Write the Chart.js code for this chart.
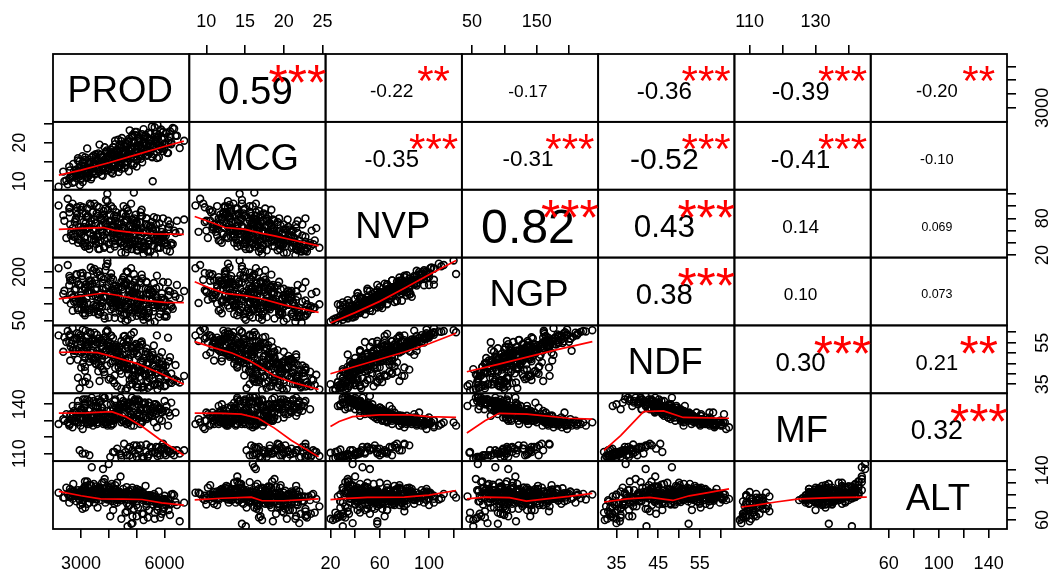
<!DOCTYPE html>
<html lang="en">
<head>
<meta charset="UTF-8">
<title>chart.Correlation</title>
<script src="https://cdn.jsdelivr.net/npm/chart.js"></script>
<style>
  html, body { margin: 0; padding: 0; background: #fff; }
</style>
</head>
<body>
<canvas id="pairs" width="1055" height="575"></canvas>
<script>
// --- variables (names on the diagonal) ---
const vars = ['PROD', 'MCG', 'NVP', 'NGP', 'NDF', 'MF', 'ALT'];

const prod = [2190, 2360, 2470, 2575, 2610, 2695, 2720, 2805, 2830, 2890,
  2915, 2970, 3005, 3060, 3085, 3140, 3165, 3220, 3235, 3290,
  3315, 3360, 3385, 3430, 3455, 3510, 3525, 3580, 3595, 3650,
  3665, 3720, 3735, 3790, 3805, 3860, 3875, 3930, 3945, 3995,
  4015, 4070, 4085, 4140, 4155, 4210, 4225, 4280, 4295, 4350,
  4375, 4420, 4445, 4500, 4515, 4570, 4595, 4650, 4675, 4730,
  4755, 4810, 4845, 4900, 4935, 5000, 5035, 5100, 5135, 5200,
  5245, 5320, 5365, 5440, 5495, 5580, 5635, 5730, 5795, 5910,
  6005, 6130, 6245,
  2950, 3050, 4050, 4300, 4450, 4600, 4750, 4850, 4950, 5050, 5150,
  5250, 5350, 5450, 5550, 5650, 5750, 5850, 5950, 6050, 6200, 6710,
  2650, 3900, 4450, 3150, 5150, 2980, 4720, 3480, 5600, 4100,
  2820, 4880, 3620, 5380, 3300, 4260, 6080, 2520, 3760, 4600,
  5020, 3050, 4350, 5720, 3540, 4980, 2750, 4150, 5480, 3850,
  4530, 3200, 5880, 4020, 2880, 4790, 3410, 5250, 4380, 3680,
  6400, 3100, 4680, 2400, 5060, 3950, 4230, 5560, 3330, 4910,
  3010, 4470, 5820, 3590, 4060, 2600, 5310, 3780, 4640, 5140,
  3460, 4320, 2960, 5690, 4170, 3880, 4830, 3250, 5410, 4560,
  3720, 6150, 2700, 4400, 5000, 3570, 4940, 3140, 4720, 5950,
  4200, 4650, 5100, 5400, 5700, 6000, 6300, 4900, 5250, 5550,
  3300, 5900, 6450, 4400, 5000, 5800, 6150, 4750, 5350, 6550,
  3420, 4580, 2860, 5230, 3970, 4760, 3160, 5470, 4290, 2580,
  3700, 4850, 3350, 5750, 4120, 3020, 4970, 3830, 5590, 2770,
  4410, 3560, 5100, 4020, 3240, 6050, 4640, 3640, 5330, 2930,
  4190, 5810, 3490, 4700, 3900, 5050, 3120, 4480, 5620, 3750,
  2700, 4340, 5180, 3300, 4880, 4080, 5900, 3600, 4530, 2990,
  5270, 4230, 3440, 5010, 3810, 4690, 3180, 5520, 4150, 2850,
  4940, 3680, 5360, 4360, 3070, 4800, 5700, 3930, 4610, 3380,
  5150, 4260, 3520, 6200, 4050, 2630, 4920, 3770, 5430, 4470,
  3230, 5060,
  4150, 4700, 5200, 5500, 5750, 6100, 6350, 4450, 5000, 5650,
  6000, 3150, 4850, 5400, 5950, 6250, 4550, 5850];
const mcg = [8.6, 12.5, 10.2, 13.8, 11.0, 9.6, 14.5, 12.0, 10.8, 16.0,
  12.8, 11.4, 14.0, 9.8, 13.2, 15.5, 12.2, 18.5, 11.0, 14.8,
  13.5, 10.5, 16.2, 12.6, 14.2, 11.8, 17.0, 13.0, 15.2, 12.4,
  19.5, 14.6, 11.6, 16.4, 13.8, 15.0, 12.9, 17.6, 14.3, 16.0,
  13.1, 18.2, 15.6, 12.0, 16.8, 14.9, 20.5, 15.3, 13.6, 17.4,
  16.1, 14.0, 18.8, 15.8, 17.2, 13.4, 19.0, 16.5, 15.1, 21.0,
  17.8, 14.6, 18.4, 16.2, 20.0, 15.7, 21.8, 17.0, 19.4, 14.9,
  18.0, 21.6, 16.6, 19.8, 22.3, 10.0, 20.6, 16.0, 22.0, 18.6,
  21.2, 17.3, 19.6,
  15.2, 16.5, 17.0, 18.2, 16.0, 20.0, 16.8, 22.0, 17.5, 19.2, 15.8,
  23.5, 18.0, 20.8, 16.4, 21.5, 24.6, 18.8, 22.8, 19.5, 23.0, 20.5,
  11.2, 15.8, 13.2, 12.0, 18.6, 10.4, 20.2, 14.6, 19.4, 16.6,
  13.0, 14.2, 17.2, 21.4, 11.6, 18.0, 22.6, 9.2, 13.6, 17.8,
  15.6, 14.8, 12.4, 20.8, 16.4, 19.2, 12.6, 14.0, 17.4, 18.8,
  16.0, 10.8, 23.4, 13.4, 15.4, 18.4, 12.2, 21.0, 15.2, 14.4,
  21.8, 13.8, 16.8, 10.0, 20.4, 12.8, 19.6, 16.2, 15.0, 14.6,
  11.8, 21.2, 18.2, 13.2, 17.0, 12.8, 22.0, 11.4, 19.0, 16.4,
  14.2, 15.8, 9.0, 19.8, 13.0, 17.6, 21.6, 12.4, 18.0, 14.8,
  16.2, 20.0, 11.0, 18.6, 13.8, 15.6, 22.8, 14.0, 12.6, 17.8,
  17.6, 19.8, 21.0, 16.8, 22.4, 18.4, 23.8, 20.2, 17.2, 24.2,
  15.6, 19.0, 21.8, 18.0, 22.8, 16.2, 20.6, 23.2, 19.4, 18.6,
  13.4, 17.2, 11.8, 19.8, 14.8, 16.0, 12.6, 20.6, 15.4, 10.6,
  16.8, 18.6, 13.0, 21.4, 14.0, 12.2, 17.6, 15.6, 18.8, 9.8,
  19.4, 14.2, 16.6, 17.8, 11.4, 22.4, 15.0, 13.6, 20.0, 13.4,
  16.4, 19.2, 12.0, 18.2, 14.6, 21.2, 12.8, 15.8, 17.0, 13.8,
  11.6, 20.8, 18.4, 14.4, 16.2, 12.4, 21.0, 15.2, 17.4, 10.8,
  19.6, 14.4, 16.6, 15.4, 13.2, 20.4, 12.0, 18.0, 16.8, 12.4,
  22.0, 14.6, 17.8, 13.6, 15.0, 16.4, 20.2, 18.0, 14.2, 11.0,
  19.0, 15.6, 13.8, 21.6, 16.0, 11.4, 18.8, 12.8, 22.6, 17.0,
  13.2, 17.6,
  18.8, 16.6, 22.2, 19.6, 21.2, 17.4, 23.6, 20.4, 18.2, 24.0,
  19.8, 16.2, 21.6, 17.8, 22.8, 20.0, 19.2, 23.0];
const nvp = [101, 85, 48, 96, 70, 104, 55, 78, 92, 40,
  66, 100, 58, 98, 74, 50, 88, 35, 82, 64,
  104, 76, 46, 90, 60, 72, 42, 84, 54, 98,
  30, 68, 80, 52, 86, 44, 70, 58, 120, 38,
  62, 48, 76, 56, 66, 34, 44, 82, 50, 60,
  72, 40, 54, 88, 36, 64, 46, 78, 30, 52,
  68, 58, 42, 122, 38, 62, 28, 74, 48, 84,
  56, 34, 70, 44, 26, 60, 50, 80, 32, 64,
  40, 76, 36,
  45, 62, 30, 55, 70, 24, 50, 38, 66, 28, 84,
  35, 58, 42, 74, 20, 32, 52, 80, 40, 26, 78,
  58, 72, 88, 40, 62, 94, 45, 104, 36, 66,
  80, 54, 30, 48, 70, 84, 28, 112, 60, 76,
  42, 88, 64, 52, 38, 70, 50, 96, 58, 34,
  100, 62, 40, 74, 46, 66, 90, 32, 52, 82,
  56, 66, 92, 76, 44, 108, 38, 64, 56, 80,
  44, 60, 72, 50, 86, 98, 36, 68, 50, 90,
  44, 70, 58, 46, 62, 96, 30, 84, 68, 40,
  78, 62, 64, 54, 74, 100, 42, 34, 88, 48,
  48, 34, 60, 26, 70, 44, 38, 56, 22, 64,
  30, 52, 76, 40, 28, 46, 66, 36, 80, 58,
  62, 48, 86, 56, 94, 38, 72, 66, 58, 90,
  44, 78, 102, 42, 68, 54, 86, 32, 60, 74,
  50, 88, 36, 76, 64, 52, 96, 40, 70, 60,
  84, 46, 78, 56, 110, 34, 48, 66, 82, 58,
  44, 62, 94, 36, 72, 100, 58, 50, 88, 66,
  40, 76, 52, 64, 92, 46, 82, 54, 70, 98,
  44, 66, 80, 54, 38, 104, 62, 48, 84, 70,
  52, 90, 46, 70, 60, 52, 76, 84, 38, 42,
  96, 58,
  42, 58, 30, 68, 48, 36, 60, 24, 72, 44,
  54, 34, 64, 28, 50, 40, 74, 32];
const ngp = [212, 132, 114, 159, 174, 176, 120, 111, 193, 82,
  162, 160, 120, 197, 110, 148, 161, 104, 137, 139,
  161, 173, 86, 204, 98, 147, 125, 150, 79, 202,
  92, 115, 184, 106, 123, 123, 124, 160, 236, 59,
  136, 84, 183, 107, 147, 58, 118, 127, 113, 153,
  107, 117, 99, 176, 66, 164, 96, 166, 52, 141,
  125, 90, 135, 194, 94, 106, 83, 170, 69, 180,
  102, 113, 134, 73, 43, 138, 98, 189, 60, 134,
  62, 168, 96,
  120, 101, 106, 105, 153, 47, 142, 74, 137, 98, 130,
  94, 100, 135, 110, 46, 100, 106, 169, 67, 100, 141,
  130, 150, 170, 72, 110, 196, 118, 210, 78, 102,
  148, 132, 68, 86, 174, 140, 62, 222, 92, 162,
  104, 188, 126, 112, 96, 128, 108, 178, 144, 56,
  184, 118, 90, 136, 88, 156, 164, 70, 80, 190,
  124, 100, 200, 142, 98, 226, 74, 116, 136, 168,
  84, 106, 154, 112, 172, 182, 64, 150, 94, 166,
  76, 138, 104, 120, 88, 206, 60, 158, 146, 70,
  134, 128, 122, 100, 152, 198, 82, 66, 176, 90,
  112, 70, 130, 58, 150, 92, 86, 122, 52, 138,
  75, 98, 160, 88, 64, 104, 142, 80, 170, 118,
  126, 90, 170, 118, 182, 84, 152, 130, 100, 188,
  76, 160, 214, 96, 118, 114, 176, 64, 136, 144,
  92, 164, 86, 130, 140, 108, 202, 70, 148, 110,
  156, 100, 174, 112, 218, 74, 96, 146, 166, 104,
  80, 124, 192, 82, 138, 196, 120, 122, 184, 128,
  78, 148, 88, 134, 178, 102, 162, 108, 142, 192,
  88, 130, 168, 98, 72, 212, 126, 94, 170, 136,
  116, 158, 92, 140, 112, 102, 150, 166, 80, 86,
  188, 106,
  96, 128, 62, 146, 104, 78, 132, 56, 154, 90,
  116, 84, 140, 60, 112, 92, 158, 70];
const ndf = [58.5, 50.6, 55.3, 55.1, 46.4, 62.0, 51.2, 51.0, 57.3, 38.1,
  59.2, 57.4, 43.0, 61.3, 51.1, 41.4, 60.8, 38.2, 55.0, 47.3,
  60.0, 50.2, 48.3, 51.1, 47.4, 54.2, 45.0, 51.1, 55.2, 57.0,
  36.5, 46.0, 56.2, 42.0, 56.3, 51.1, 49.0, 51.2, 61.0, 37.2,
  53.0, 45.1, 58.3, 46.0, 53.1, 39.2, 46.1, 52.1, 50.0, 43.1,
  53.1, 44.3, 48.0, 49.1, 43.2, 58.2, 43.2, 53.0, 42.2, 47.0,
  44.3, 52.3, 42.1, 60.0, 37.0, 54.3, 35.0, 53.3, 41.1, 54.1,
  47.4, 49.3, 44.4, 45.1, 34.1, 49.0, 43.5, 58.5, 36.0, 50.4,
  40.4, 57.4, 40.1,
  33.0, 36.0, 38.0, 34.0, 40.0, 32.0, 37.0, 35.0, 39.0, 33.5, 42.0,
  34.0, 36.5, 38.0, 41.0, 35.0, 32.5, 37.5, 43.0, 34.5, 36.0, 39.0,
  54.5, 50.5, 55.8, 47.6, 46.2, 58.6, 42.5, 59.8, 44.0, 52.6,
  51.8, 49.6, 41.2, 45.4, 55.6, 53.8, 38.8, 60.6, 47.2, 52.2,
  43.8, 56.4, 50.8, 47.0, 44.6, 51.4, 49.8, 57.2, 48.4, 39.6,
  58.0, 52.8, 41.0, 53.6, 46.8, 49.2, 56.0, 40.2, 46.6, 54.8,
  44.2, 51.6, 55.4, 57.6, 43.0, 60.4, 42.8, 50.2, 48.8, 53.4,
  50.6, 45.8, 48.0, 49.4, 54.6, 59.0, 39.2, 52.0, 44.8, 55.0,
  46.4, 51.2, 55.8, 42.4, 48.2, 57.8, 37.8, 54.2, 50.0, 45.2,
  53.2, 46.0, 56.2, 47.8, 52.4, 58.8, 41.6, 43.4, 56.6, 44.4,
  35.5, 33.0, 38.5, 36.0, 40.5, 34.0, 37.0, 42.5, 32.2, 39.5,
  35.0, 44.5, 36.5, 41.5, 33.8, 37.8, 46.0, 34.8, 39.0, 35.8,
  50.2, 46.8, 56.6, 45.6, 55.2, 44.2, 53.8, 48.6, 49.0, 58.2,
  43.6, 52.6, 59.4, 42.0, 51.0, 50.4, 54.4, 40.8, 47.4, 57.0,
  44.6, 55.0, 43.2, 52.0, 53.4, 44.0, 56.8, 44.8, 50.6, 52.4,
  53.0, 45.0, 56.0, 47.6, 60.2, 40.6, 49.6, 51.6, 53.6, 48.8,
  51.4, 46.4, 55.6, 45.8, 50.8, 58.4, 46.0, 48.2, 54.8, 54.2,
  42.6, 52.8, 46.6, 49.8, 57.4, 43.4, 55.4, 47.2, 51.8, 59.6,
  41.8, 50.0, 52.2, 48.4, 45.2, 58.8, 46.8, 44.0, 54.0, 55.8,
  45.4, 53.2, 47.8, 48.0, 49.4, 53.0, 50.6, 55.2, 40.4, 45.0,
  57.8, 48.6,
  36.8, 39.8, 33.4, 41.0, 35.2, 38.2, 37.4, 32.8, 43.5, 34.6,
  40.2, 36.2, 38.8, 33.2, 42.0, 35.6, 45.5, 34.2];
const mf = [128, 131, 134, 127, 133, 126, 134, 130, 135, 142,
  129, 132, 137, 125, 131, 141, 134, 143, 128, 136,
  130, 133, 144, 127, 132, 135, 139, 129, 133, 131,
  141, 134, 130, 145, 128, 133, 132, 136, 129, 145,
  131, 140, 127, 134, 130, 142, 139, 133, 137, 138,
  132, 144, 140, 130, 142, 135, 138, 128, 141, 136,
  139, 134, 139, 127, 143, 130, 140, 133, 137, 129,
  132, 138, 137, 141, 139, 135, 140, 126, 137, 130,
  142, 127, 141,
  112, 110, 108, 113, 109, 111, 114, 107.5, 110, 112.5, 115,
  108, 111, 109.5, 113.5, 110.5, 108.5, 112, 116, 109, 111.5, 112,
  131, 133, 129, 140, 136, 127, 141, 130, 138, 134,
  132, 135, 143, 137, 128, 131, 139, 129, 138, 130,
  142, 132, 134, 136, 141, 131, 136, 128, 133, 144,
  130, 133, 137, 132, 139, 134, 129, 140, 137, 131,
  135, 135, 129, 130, 142, 127, 143, 133, 137, 132,
  136, 138, 131, 139, 130, 128, 141, 133, 139, 128,
  142, 134, 131, 140, 137, 129, 144, 130, 132, 141,
  133, 135, 130, 138, 131, 128, 142, 143, 129, 136,
  111, 109, 113, 108, 114, 110, 112, 115, 107, 111,
  109, 113, 112, 110, 108, 114, 111, 109, 115.5, 110,
  134, 138, 129, 137, 131, 141, 132, 134, 136, 128,
  142, 131, 129, 139, 134, 137, 130, 144, 135, 130,
  139, 131, 142, 133, 133, 136, 128, 141, 132, 135,
  131, 138, 130, 137, 128, 143, 138, 133, 129, 136,
  139, 136, 130, 142, 132, 128, 135, 138, 130, 132,
  141, 133, 139, 134, 129, 140, 131, 136, 134, 129,
  142, 135, 131, 137, 143, 127, 134, 140, 131, 130,
  138, 132, 139, 133, 136, 134, 132, 130, 141, 140,
  129, 135,
  111, 113, 108, 114, 110, 112, 109, 107.5, 115, 111,
  113, 110, 112, 108, 114, 110, 116, 109];
const alt = [104, 96, 112, 88, 100, 94, 118, 102, 90, 108,
  98, 84, 106, 92, 110, 100, 96, 122, 86, 104,
  98, 116, 145, 94, 102, 108, 96, 100, 80, 106,
  112, 99, 92, 142, 110, 97, 88, 106, 101, 150,
  95, 114, 91, 103, 76, 108, 100, 97, 120, 94,
  105, 130, 102, 98, 110, 93, 104, 87, 50, 106,
  100, 54, 112, 96, 104, 90, 101, 108, 97, 103,
  94, 115, 92, 100, 98, 85, 102, 95, 106, 89,
  99, 93, 101,
  92, 78, 66, 88, 100, 72, 84, 55, 95, 80, 104,
  70, 86, 76, 90, 62, 82, 96, 74, 85, 68, 88,
  98, 104, 92, 110, 96, 100, 107, 88, 94, 118,
  103, 91, 112, 99, 95, 108, 90, 102, 120, 97,
  105, 86, 101, 93, 114, 98, 106, 94, 100, 126,
  95, 99, 92, 109, 101, 96, 104, 103, 97, 111,
  89, 107, 102, 96, 100, 93, 116, 99, 105, 94,
  108, 101, 87, 99, 106, 110, 95, 102, 113, 97,
  118, 92, 104, 98, 100, 96, 108, 112, 91, 103,
  99, 86, 105, 95, 110, 101, 97, 122, 100, 93,
  86, 74, 96, 64, 90, 80, 102, 78, 60, 94,
  88, 70, 84, 105, 66, 92, 76, 98, 82, 58,
  100, 96, 104, 92, 108, 99, 115, 90, 103, 97,
  110, 94, 101, 88, 106, 98, 102, 121, 95, 99,
  104, 93, 100, 112, 96, 91, 105, 107, 97, 94,
  100, 86, 109, 101, 95, 104, 113, 98, 92, 106,
  102, 96, 100, 117, 93, 103, 89, 108, 97, 101,
  95, 110, 99, 104, 96, 100, 106, 94, 98, 103,
  97, 112, 90, 105, 100, 99, 87, 114, 102, 95,
  101, 97, 109, 85, 100, 106, 96, 103, 98, 92,
  100, 108,
  90, 82, 70, 96, 76, 88, 100, 62, 84, 72,
  94, 80, 66, 90, 78, 86, 98, 64];
const series = [prod, mcg, nvp, ngp, ndf, mf, alt];

// --- axis ranges and tick values per variable ---
const axisMin = [1990, 7.8, 16, 34.3, 30.6, 105.4, 45.6];
const axisMax = [6895, 25.4, 126.7, 245, 63.3, 146.7, 154.7];
const tickVals = [
  [3000, 4000, 5000, 6000],
  [10, 15, 20, 25],
  [20, 40, 60, 80, 100, 120],
  [50, 100, 150, 200],
  [35, 40, 45, 50, 55, 60],
  [110, 120, 130, 140],
  [60, 80, 100, 120, 140]
];
// labels printed on each side (null = no axis on that side)
const topLabels = [null, ['10', '15', '20', '25'], null, ['50', '150'], null, ['110', '130'], null];
const bottomLabels = [['3000', '6000'], null, ['20', '60', '100'], null, ['35', '45', '55'], null, ['60', '100', '140']];
const leftLabels = [null, ['10', '20'], null, ['50', '200'], null, ['110', '140'], null];
const rightLabels = [['3000'], null, ['20', '80'], null, ['35', '55'], null, ['60', '140']];

// --- upper panels: correlation and significance, row by row ---
const corrLabels = ['0.59', '-0.22', '-0.17', '-0.36', '-0.39', '-0.20',
  '-0.35', '-0.31', '-0.52', '-0.41', '-0.10',
  '0.82', '0.43', '0.14', '0.069',
  '0.38', '0.10', '0.073',
  '0.30', '0.21',
  '0.32'];
const corrStars = ['***', '**', '', '***', '***', '**',
  '***', '***', '***', '***', '',
  '***', '***', '', '',
  '***', '', '',
  '***', '**',
  '***'];

// --- red smoothers ('row-col': [x, y]) ---
const smooth = {
  '1-0': [[2200, 11.6], [3000, 12.9], [4000, 14.8], [5000, 16.9], [6000, 19.0], [6700, 20.4]],
  '2-0': [[2200, 62], [3000, 63.5], [3800, 65], [4200, 60.5], [4800, 57], [5600, 54.5], [6700, 54]],
  '2-1': [[8.5, 83], [10.5, 74], [12.4, 65], [15, 62], [17, 56], [18.8, 51.5], [21, 45], [24.5, 35]],
  '3-0': [[2200, 117], [3000, 125], [3800, 135], [4300, 128], [5200, 113], [6000, 106], [6700, 105]],
  '3-1': [[8.5, 170], [10.5, 150], [12.4, 134], [15, 127], [17, 118], [20, 98], [22, 87], [24.5, 75]],
  '3-2': [[20, 42], [40, 74], [60, 109], [80, 150], [100, 192], [122, 236]],
  '4-0': [[2200, 50.3], [3000, 50.5], [3600, 50.2], [4200, 48], [5000, 45], [5800, 40.5], [6700, 35]],
  '4-1': [[8.5, 55.5], [11, 52.5], [13.3, 50], [15.5, 46.5], [17.1, 43], [18.8, 39], [21, 36], [24.5, 32.5]],
  '4-2': [[20, 40], [40, 43.5], [60, 47], [80, 50.5], [100, 54.5], [122, 59.5]],
  '4-3': [[42, 41], [90, 44.5], [135, 48], [180, 51.5], [236, 55.5]],
  '5-0': [[2200, 134.6], [3200, 134.8], [4100, 135.5], [4600, 132.5], [5200, 126.5], [5800, 119], [6700, 109]],
  '5-1': [[8.5, 134.6], [12, 134.5], [14.5, 134], [16.7, 131.5], [18.8, 125.5], [21, 118], [24.5, 108]],
  '5-2': [[20, 126.5], [27, 129.5], [38, 132.5], [60, 133.5], [84, 133.5], [100, 132.5], [122, 132]],
  '5-3': [[42, 122.5], [70, 130], [92, 134.5], [135, 134], [200, 131.5], [236, 131]],
  '5-4': [[32, 112], [36, 121], [41.5, 135.5], [46.3, 136], [51, 132], [62, 131.5]],
  '6-0': [[2200, 106], [3000, 99], [3700, 94], [4500, 93.5], [5200, 93], [5900, 87.5], [6700, 84]],
  '6-1': [[8.5, 92.5], [12, 95], [15.8, 96.8], [17.2, 91], [20, 91], [24.5, 94]],
  '6-2': [[20, 92.7], [30, 94.5], [50, 96.5], [80, 97], [100, 100], [122, 107.5]],
  '6-3': [[42, 94], [70, 97], [108, 96], [134, 90.5], [165, 94], [200, 98], [236, 103]],
  '6-4': [[32, 89], [37.5, 94], [43, 96.5], [48.5, 91.5], [52.5, 99], [57, 104], [62, 110]],
  '6-5': [[107.5, 81], [112, 84], [118, 89], [125, 94], [135, 96], [145.5, 97]]
};

const FONT = '"Liberation Sans", Arial, sans-serif';
const TICK_SIZE = 18;
const measure = document.createElement('canvas').getContext('2d');
measure.font = TICK_SIZE + 'px ' + FONT;
const widest = labels => Math.max(...labels.map(s => measure.measureText(s).width));

function axisOpts(k, pos) {
  const table = {top: topLabels, bottom: bottomLabels, left: leftLabels, right: rightLabels}[pos];
  const shown = table[k];
  const horiz = pos === 'top' || pos === 'bottom';
  const o = {
    type: 'linear',
    position: pos,
    stack: pos,
    stackWeight: 1,
    min: axisMin[k],
    max: axisMax[k],
    border: { display: false },
    grid: { display: !!shown, drawOnChartArea: false, drawTicks: true, tickLength: 9, color: '#000', lineWidth: 1.6 },
    ticks: {
      display: !!shown,
      autoSkip: false,
      color: '#000',
      font: { family: FONT, size: TICK_SIZE },
      padding: 10,
      callback: v => (shown && shown.includes(String(v))) ? String(v) : ''
    },
    afterBuildTicks: s => { s.ticks = tickVals[k].map(v => ({ value: v })); },
    afterFit: s => {
      if (pos === 'top') s.height = 54;
      else if (pos === 'bottom') s.height = 46;
      else if (pos === 'left') s.width = 53;
      else s.width = 48;
    }
  };
  if (horiz) {
    o.ticks.minRotation = 0;
    o.ticks.maxRotation = 0;
    o.ticks.padding = pos === 'top' ? 12 : 15;
  } else {
    o.ticks.minRotation = 90;
    o.ticks.maxRotation = 90;
    o.ticks.crossAlign = 'center';
    const w = shown ? widest(shown) : 0;
    o.ticks.padding = pos === 'left' ? 23.7 - w / 2 : 27 - w / 2;
  }
  return o;
}

// top / left stacks are laid out in reverse order by Chart.js
const scales = {};
for (let k = 6; k >= 0; k--) scales['xt' + k] = axisOpts(k, 'top');
for (let k = 0; k < 7; k++) scales['xb' + k] = axisOpts(k, 'bottom');
for (let k = 6; k >= 0; k--) scales['yl' + k] = axisOpts(k, 'left');
for (let k = 0; k < 7; k++) scales['yr' + k] = axisOpts(k, 'right');

const datasets = [];
for (let i = 1; i < 7; i++) {
  for (let j = 0; j < i; j++) {
    datasets.push({
      data: series[j].map((v, n) => ({ x: v, y: series[i][n] })),
      xAxisID: 'xb' + j,
      yAxisID: 'yl' + i,
      pointStyle: 'circle',
      pointRadius: 3.4,
      pointBorderWidth: 1.6,
      pointBorderColor: '#000',
      pointBackgroundColor: 'rgba(0,0,0,0)',
      showLine: false,
      order: 1
    });
    datasets.push({
      data: smooth[i + '-' + j].map(p => ({ x: p[0], y: p[1] })),
      xAxisID: 'xb' + j,
      yAxisID: 'yl' + i,
      showLine: true,
      pointRadius: 0,
      borderColor: '#ff0000',
      borderWidth: 1.7,
      fill: false,
      order: 0
    });
  }
}

// panel frames, names on the diagonal, correlations above it
const panelPlugin = {
  id: 'panels',
  afterDatasetsDraw(chart) {
    const ctx = chart.ctx;
    const box = (i, j) => {
      const xs = chart.scales['xb' + j], ys = chart.scales['yl' + i];
      return { l: xs.left, t: ys.top, w: xs.right - xs.left, h: ys.bottom - ys.top };
    };
    ctx.save();
    ctx.strokeStyle = '#000';
    ctx.lineWidth = 1.8;
    for (let i = 0; i < 7; i++) {
      for (let j = 0; j < 7; j++) {
        const b = box(i, j);
        ctx.strokeRect(b.l, b.t, b.w, b.h);
      }
    }
    ctx.textAlign = 'center';
    ctx.textBaseline = 'alphabetic';
    ctx.fillStyle = '#000';
    const nameSize = 36.5;
    ctx.font = nameSize + 'px ' + FONT;
    vars.forEach((name, k) => {
      const b = box(k, k);
      ctx.fillText(name, b.l + b.w / 2 - 1, b.t + b.h / 2 + 1.5 + 0.358 * nameSize);
    });
    let n = 0;
    for (let i = 0; i < 7; i++) {
      for (let j = i + 1; j < 7; j++) {
        const b = box(i, j);
        const txt = corrLabels[n];
        ctx.font = '100px ' + FONT;
        const em = ctx.measureText(txt).width / 100;
        const base = 0.8 * b.w / em;
        const fs = base * (Math.abs(parseFloat(txt)) + 0.3) / 1.3;
        ctx.fillStyle = '#000';
        ctx.font = fs + 'px ' + FONT;
        ctx.fillText(txt, b.l + b.w / 2 - 2, b.t + b.h / 2 + 2.5 + 0.358 * fs);
        if (corrStars[n]) {
          const ss = base * 0.88;
          ctx.fillStyle = '#ff0000';
          ctx.font = ss + 'px ' + FONT;
          const inkY = b.t + 0.2 * b.h + 0.065 * base;
          ctx.fillText(corrStars[n], b.l + 0.8 * b.w - 1, inkY + 0.575 * ss);
        }
        n++;
      }
    }
    ctx.restore();
  }
};

new Chart(document.getElementById('pairs'), {
  type: 'scatter',
  data: { datasets },
  options: {
    responsive: false,
    animation: false,
    events: [],
    layout: { padding: 0 },
    plugins: { legend: { display: false }, tooltip: { enabled: false } },
    scales
  },
  plugins: [panelPlugin]
});
</script>
</body>
</html>
